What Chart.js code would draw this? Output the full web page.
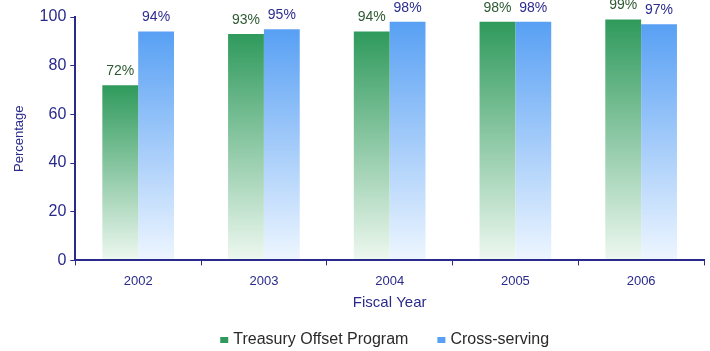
<!DOCTYPE html>
<html>
<head>
<meta charset="utf-8">
<script src="https://cdn.jsdelivr.net/npm/chart.js@4.4.1/dist/chart.umd.min.js"></script>
<style>
  html, body { margin: 0; padding: 0; background: #fff; }
  #wrap { width: 710px; height: 351px; }
</style>
</head>
<body>
<div id="wrap"><canvas id="chart"></canvas></div>
<script>
const years = ['2002', '2003', '2004', '2005', '2006'];
const treasuryOffset = [72, 93, 94, 98, 99];
const crossServing = [94, 95, 98, 98, 97];
const yTicks = [0, 20, 40, 60, 80, 100];

const navy = '#2a2a8c';
const fontFamily = 'Arial, "Liberation Sans", sans-serif';

// vertical gradient per bar, dark at the top, fading out at the base
function barGradient(top, bottom) {
  return function (ctx) {
    const chart = ctx.chart;
    if (!chart.chartArea || ctx.type !== 'data') return top;
    const y = chart.scales.y;
    const g = chart.ctx.createLinearGradient(0, y.getPixelForValue(ctx.raw), 0, y.getPixelForValue(0));
    g.addColorStop(0, top);
    g.addColorStop(1, bottom);
    return g;
  };
}

const valueLabels = {
  id: 'valueLabels',
  afterDatasetsDraw(chart) {
    const c = chart.ctx;
    c.save();
    c.font = '14px ' + fontFamily;
    c.textAlign = 'center';
    c.textBaseline = 'bottom';
    chart.data.datasets.forEach((ds, i) => {
      c.fillStyle = ds.labelColor;
      chart.getDatasetMeta(i).data.forEach((bar, j) => {
        c.fillText(ds.data[j] + '%', bar.x, bar.y - 7);
      });
    });
    c.restore();
  }
};

// legend drawn by hand under the axis title, so spacing can match
const bottomLegend = {
  id: 'bottomLegend',
  afterDraw(chart) {
    const c = chart.ctx;
    const area = chart.chartArea;
    c.save();
    c.font = '16px ' + fontFamily;
    c.textBaseline = 'middle';
    const box = 8, gap = 5, spacing = 29;
    const items = chart.data.datasets.map(ds => ({ text: ds.label, color: ds.legendColor, w: c.measureText(ds.label).width }));
    const total = items.reduce((s, it) => s + box + gap + it.w, 0) + spacing * (items.length - 1);
    let x = (area.left + area.right) / 2 - 5 - total / 2;
    const y = 340;
    items.forEach(it => {
      c.fillStyle = it.color;
      c.fillRect(x, y - 3, box, 6);
      x += box + gap;
      c.fillStyle = '#2a2a2a';
      c.fillText(it.text, x, y);
      x += it.w + spacing;
    });
    c.restore();
  }
};

new Chart(document.getElementById('chart'), {
  type: 'bar',
  data: {
    labels: years,
    datasets: [
      {
        label: 'Treasury Offset Program',
        data: treasuryOffset,
        backgroundColor: barGradient('#2f9a5c', '#eef8f0'),
        legendColor: '#2f9a5c',
        labelColor: '#2d5a32',
        barPercentage: 1,
        categoryPercentage: 0.57
      },
      {
        label: 'Cross-serving',
        data: crossServing,
        backgroundColor: barGradient('#58a0f4', '#eef6ff'),
        legendColor: '#58a0f4',
        labelColor: '#2c2c90',
        barPercentage: 1,
        categoryPercentage: 0.57
      }
    ]
  },
  options: {
    responsive: true,
    maintainAspectRatio: false,
    animation: false,
    layout: { padding: { top: 17, right: 6, left: 12, bottom: 39 } },
    plugins: {
      legend: { display: false },
      tooltip: { enabled: false }
    },
    scales: {
      x: {
        grid: {
          display: true,
          drawOnChartArea: false,
          drawTicks: true,
          tickLength: 5,
          color: navy,
          z: 1
        },
        border: { color: navy, width: 2, z: 1 },
        ticks: {
          color: navy,
          padding: 8,
          font: { size: 13, family: fontFamily }
        },
        title: {
          display: true,
          text: 'Fiscal Year',
          color: navy,
          padding: { top: -3, bottom: 0 },
          font: { size: 15, family: fontFamily }
        }
      },
      y: {
        min: 0,
        max: 100,
        afterBuildTicks(axis) {
          axis.ticks = yTicks.map(v => ({ value: v }));
        },
        grid: {
          display: true,
          drawOnChartArea: false,
          drawTicks: true,
          tickLength: 5,
          color: navy,
          z: 1
        },
        border: { color: navy, width: 2, z: 1 },
        ticks: {
          color: navy,
          padding: 4,
          font: { size: 16, family: fontFamily }
        },
        title: {
          display: true,
          text: 'Percentage',
          color: navy,
          padding: { top: 0, bottom: 8 },
          font: { size: 13, family: fontFamily }
        }
      }
    }
  },
  plugins: [valueLabels, bottomLegend]
});
</script>
</body>
</html>
